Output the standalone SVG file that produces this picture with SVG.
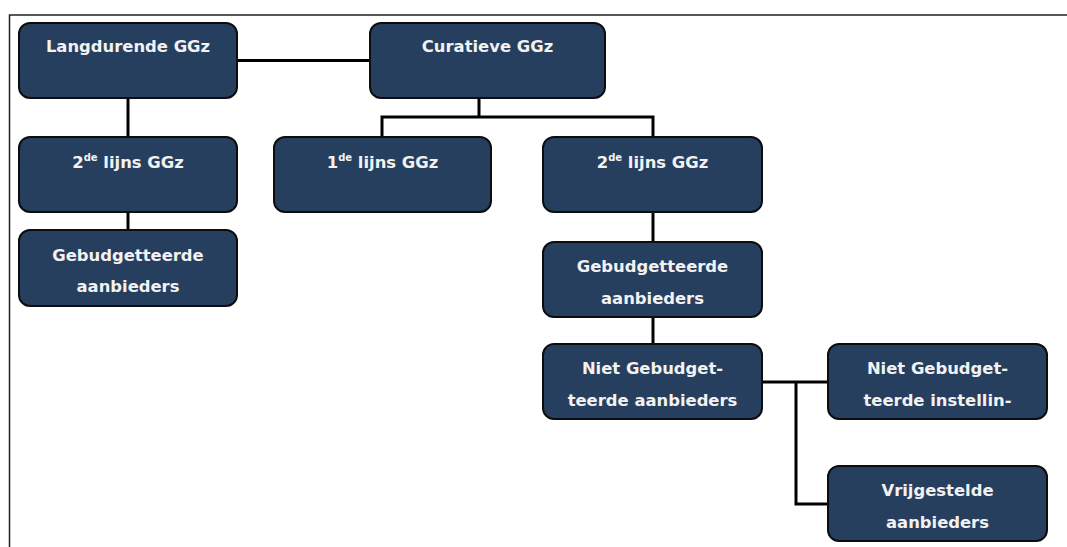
<svg xmlns="http://www.w3.org/2000/svg" width="1067" height="547" viewBox="0 0 1067 547">
  <style>
    .box { fill: #273f5f; stroke: #0d0d0d; stroke-width: 2; }
    .lbl { font-family: "DejaVu Sans", Verdana, sans-serif; font-weight: bold; font-size: 16.4px; fill: #f2f2f2; text-anchor: middle; }
    .sup { font-size: 10px; }
    .wire { fill: none; stroke: #000; stroke-width: 3; }
    .frame { fill: none; stroke: #222; stroke-width: 1.5; }
  </style>
  <rect width="1067" height="547" fill="#fff"/>
  <!-- outer frame: top and left edges only -->
  <path class="frame" d="M1067,15 H9.5 V547"/>

  <g id="connectors">
    <path class="wire" d="M237,60.5 H370"/>
    <path class="wire" d="M128,98 V137"/>
    <path class="wire" d="M128,212 V230"/>
    <path class="wire" d="M479,98 V117 M382,137 V117 H653 V137"/>
    <path class="wire" d="M653,212 V242"/>
    <path class="wire" d="M653,317 V344"/>
    <path class="wire" d="M762,382 H828 M796,382 V504 H828"/>
  </g>

  <g id="langdurende">
    <rect class="box" x="19" y="23" width="218" height="75" rx="11"/>
    <text class="lbl" x="128" y="52">Langdurende GGz</text>
  </g>
  <g id="curatieve">
    <rect class="box" x="370" y="23" width="235" height="75" rx="11"/>
    <text class="lbl" x="487.5" y="52">Curatieve GGz</text>
  </g>
  <g id="tweedelijns-langdurend">
    <rect class="box" x="19" y="137" width="218" height="75" rx="11"/>
    <text class="lbl" x="128" y="168">2<tspan class="sup" dy="-7">de</tspan><tspan dy="7"> lijns GGz</tspan></text>
  </g>
  <g id="eerstelijns">
    <rect class="box" x="274" y="137" width="217" height="75" rx="11"/>
    <text class="lbl" x="382.5" y="168">1<tspan class="sup" dy="-7">de</tspan><tspan dy="7"> lijns GGz</tspan></text>
  </g>
  <g id="tweedelijns-curatief">
    <rect class="box" x="543" y="137" width="219" height="75" rx="11"/>
    <text class="lbl" x="652.5" y="168">2<tspan class="sup" dy="-7">de</tspan><tspan dy="7"> lijns GGz</tspan></text>
  </g>
  <g id="gebudgetteerd-langdurend">
    <rect class="box" x="19" y="230" width="218" height="76" rx="11"/>
    <text class="lbl" x="128" y="261">Gebudgetteerde</text>
    <text class="lbl" x="128" y="292">aanbieders</text>
  </g>
  <g id="gebudgetteerd-curatief">
    <rect class="box" x="543" y="242" width="219" height="75" rx="11"/>
    <text class="lbl" x="652.5" y="272">Gebudgetteerde</text>
    <text class="lbl" x="652.5" y="304">aanbieders</text>
  </g>
  <g id="niet-gebudgetteerd">
    <rect class="box" x="543" y="344" width="219" height="75" rx="11"/>
    <text class="lbl" x="652.5" y="374">Niet Gebudget-</text>
    <text class="lbl" x="652.5" y="406">teerde aanbieders</text>
  </g>
  <g id="niet-gebudgetteerd-instellingen">
    <rect class="box" x="828" y="344" width="219" height="75" rx="11"/>
    <text class="lbl" x="937.5" y="374">Niet Gebudget-</text>
    <text class="lbl" x="937.5" y="406">teerde instellin-</text>
  </g>
  <g id="vrijgesteld">
    <rect class="box" x="828" y="466" width="219" height="75" rx="11"/>
    <text class="lbl" x="937.5" y="496">Vrijgestelde</text>
    <text class="lbl" x="937.5" y="528">aanbieders</text>
  </g>
</svg>
